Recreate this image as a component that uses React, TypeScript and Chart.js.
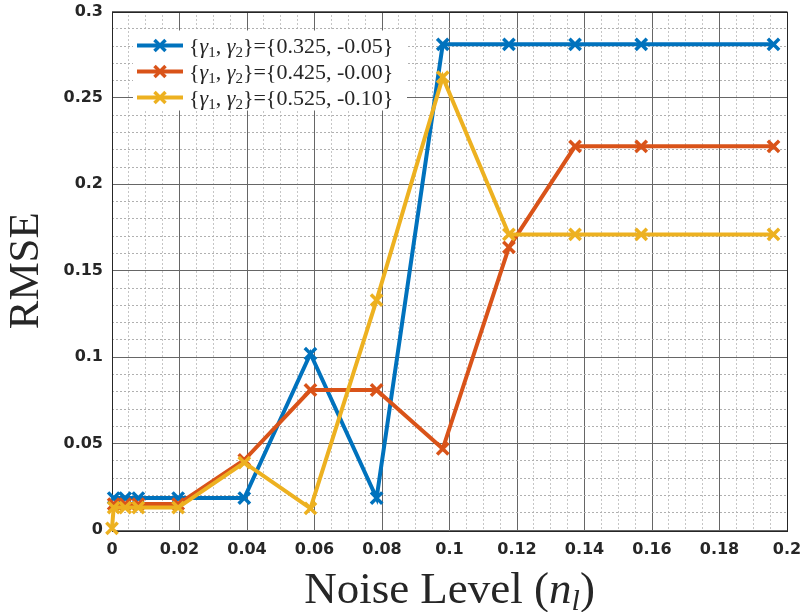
import { useEffect, useRef } from 'react'
import { Chart, registerables } from 'chart.js'

Chart.register(...registerables)

// noise levels (k/255), yellow run also has a point at 0
const noiseLevels = [0.0005, 0.0039, 0.0078, 0.0196, 0.0392, 0.0588, 0.0784, 0.098, 0.1176, 0.1372, 0.1568, 0.196]
const noiseLevelsWithZero = [0, 0.0005, 0.0039, 0.0078, 0.0196, 0.0392, 0.0588, 0.0784, 0.098, 0.1176, 0.1372, 0.1568, 0.196]

const rmseA = [0.0185, 0.0185, 0.0185, 0.0185, 0.0185, 0.102, 0.0185, 0.281, 0.281, 0.281, 0.281, 0.281]
const rmseB = [0.015, 0.015, 0.015, 0.015, 0.0405, 0.081, 0.081, 0.047, 0.1635, 0.222, 0.222, 0.222]
const rmseC = [0.001, 0.013, 0.013, 0.013, 0.013, 0.039, 0.0125, 0.133, 0.262, 0.171, 0.171, 0.171, 0.171]

const gammaValues = ['{0.325, -0.05}', '{0.425, -0.00}', '{0.525, -0.10}']
const colors = ['#0072BD', '#D95319', '#EDB120']

const xTicks = { min: 0, max: 0.2, step: 0.02, minor: 0.005 }
const yTicks = { min: 0, max: 0.3, step: 0.05, minor: 0.01 }

const SERIF = '"Liberation Serif", "Times New Roman", serif'
const TICK_FONT = { family: '"DejaVu Sans", sans-serif', size: 16, weight: 'bold' as const }

const fmt = (v: number) => String(parseFloat(v.toFixed(3)))
const isMajor = (v: number, step: number) => Math.abs(v / step - Math.round(v / step)) < 1e-6

type Part = [string, string, number]

function partsWidth(ctx: CanvasRenderingContext2D, parts: Part[]) {
  let w = 0
  for (const [t, f] of parts) {
    ctx.font = f
    w += ctx.measureText(t).width
  }
  return w
}

function drawParts(ctx: CanvasRenderingContext2D, x: number, y: number, parts: Part[]) {
  for (const [t, f, dy] of parts) {
    ctx.font = f
    ctx.fillText(t, x, y + dy)
    x += ctx.measureText(t).width
  }
}

const matlabLook = {
  id: 'matlabLook',
  beforeDatasetsDraw(chart: any) {
    const { ctx, chartArea: a } = chart
    ctx.save()
    ctx.strokeStyle = '#262626'
    ctx.lineWidth = 1
    ctx.strokeRect(Math.round(a.left) + 0.5, Math.round(a.top) + 0.5, Math.round(a.right - a.left), Math.round(a.bottom - a.top))
    ctx.restore()
  },
  afterDatasetsDraw(chart: any) {
    const { ctx, chartArea: a } = chart
    ctx.save()
    // legend box
    ctx.fillStyle = '#ffffff'
    ctx.fillRect(a.left + 21, a.top + 19, 274, 80)
    const norm = `22px ${SERIF}`
    const ital = `italic 22px ${SERIF}`
    const sub = `15px ${SERIF}`
    chart.data.datasets.forEach((ds: any, i: number) => {
      const y = a.top + 34 + i * 26
      ctx.strokeStyle = ds.borderColor
      ctx.lineWidth = 4
      ctx.beginPath()
      ctx.moveTo(a.left + 25, y)
      ctx.lineTo(a.left + 71, y)
      ctx.stroke()
      const cx = a.left + 48
      const r = 5.5
      ctx.lineWidth = 3.5
      ctx.beginPath()
      ctx.moveTo(cx - r, y - r)
      ctx.lineTo(cx + r, y + r)
      ctx.moveTo(cx + r, y - r)
      ctx.lineTo(cx - r, y + r)
      ctx.stroke()
      ctx.fillStyle = '#262626'
      ctx.textBaseline = 'alphabetic'
      drawParts(ctx, a.left + 77, y + 7, [
        ['{', norm, 0], ['γ', ital, 0], ['1', sub, 4], [', ', norm, 0],
        ['γ', ital, 0], ['2', sub, 4], ['}=', norm, 0], [gammaValues[i], norm, 0],
      ])
    })
    ctx.restore()
  },
  afterDraw(chart: any) {
    const { ctx, chartArea: a } = chart
    ctx.save()
    ctx.fillStyle = '#262626'
    ctx.textBaseline = 'alphabetic'
    const big = `45px ${SERIF}`
    const bigI = `italic 45px ${SERIF}`
    const subI = `italic 30px ${SERIF}`
    const xParts: Part[] = [['Noise Level (', big, 0], ['n', bigI, 0], ['l', subI, 7], [')', big, 0]]
    const w = partsWidth(ctx, xParts)
    drawParts(ctx, (a.left + a.right) / 2 - w / 2, 603, xParts)
    ctx.translate(38, (a.top + a.bottom) / 2)
    ctx.rotate(-Math.PI / 2)
    ctx.font = `43px ${SERIF}`
    ctx.textAlign = 'center'
    ctx.fillText('RMSE', 0, 0)
    ctx.restore()
  },
}

export default function App() {
  const canvasRef = useRef<HTMLCanvasElement>(null)
  const chartRef = useRef<Chart | null>(null)

  useEffect(() => {
    document.body.style.margin = '0'
    if (!canvasRef.current) return
    if (chartRef.current) chartRef.current.destroy()

    const series = [
      { xs: noiseLevels, ys: rmseA },
      { xs: noiseLevels, ys: rmseB },
      { xs: noiseLevelsWithZero, ys: rmseC },
    ]

    chartRef.current = new Chart(canvasRef.current, {
      type: 'line',
      data: {
        datasets: series.map((s, i) => ({
          label: `{γ1, γ2}=${gammaValues[i]}`,
          data: s.xs.map((x, j) => ({ x, y: s.ys[j] })),
          borderColor: colors[i],
          backgroundColor: colors[i],
          borderWidth: 4,
          pointStyle: 'crossRot',
          pointRadius: 8,
          pointBorderWidth: 3.5,
          pointBorderColor: colors[i],
          tension: 0,
          clip: false as any,
          order: 3 - i,
        })),
      },
      options: {
        responsive: false,
        animation: false,
        layout: { padding: { top: 11, right: 14, left: 0, bottom: 0 } },
        plugins: { legend: { display: false }, tooltip: { enabled: false } },
        scales: {
          x: {
            type: 'linear',
            min: xTicks.min,
            max: xTicks.max,
            ticks: { stepSize: xTicks.step, callback: (v: any) => fmt(Number(v)), font: TICK_FONT, color: '#262626', padding: 10, maxRotation: 0 },
            grid: { color: '#666666', lineWidth: 1, drawTicks: false },
            border: { display: false },
            afterFit: (s: any) => { s.height = 82; s.paddingLeft = 0; s.paddingRight = 0 },
          },
          xMinor: {
            type: 'linear',
            position: 'bottom',
            min: xTicks.min,
            max: xTicks.max,
            ticks: { stepSize: xTicks.minor, display: false },
            grid: {
              color: (c: any) => (isMajor(c.tick.value, xTicks.step) ? 'rgba(0,0,0,0)' : '#8c8c8c'),
              lineWidth: 1,
              drawTicks: false,
            },
            border: { display: false, dash: [1, 3] },
            afterFit: (s: any) => { s.height = 0; s.paddingLeft = 0; s.paddingRight = 0 },
          },
          y: {
            type: 'linear',
            min: yTicks.min,
            max: yTicks.max,
            ticks: { stepSize: yTicks.step, callback: (v: any) => fmt(Number(v)), font: TICK_FONT, color: '#262626', padding: 9 },
            grid: { color: '#666666', lineWidth: 1, drawTicks: false },
            border: { display: false },
            afterFit: (s: any) => { s.width = 112; s.paddingTop = 0; s.paddingBottom = 0 },
          },
          yMinor: {
            type: 'linear',
            position: 'left',
            min: yTicks.min,
            max: yTicks.max,
            ticks: { stepSize: yTicks.minor, display: false },
            grid: {
              color: (c: any) => (isMajor(c.tick.value, yTicks.step) ? 'rgba(0,0,0,0)' : '#b0b0b0'),
              lineWidth: 1,
              drawTicks: false,
            },
            border: { display: false, dash: [2, 2] },
            afterFit: (s: any) => { s.width = 0; s.paddingTop = 0; s.paddingBottom = 0 },
          },
        },
      } as any,
      plugins: [matlabLook],
    })

    return () => {
      if (chartRef.current) {
        chartRef.current.destroy()
        chartRef.current = null
      }
    }
  }, [])

  return (
    <div style={{ width: 801, height: 612, background: '#ffffff' }}>
      <canvas ref={canvasRef} width={801} height={612}></canvas>
    </div>
  )
}
